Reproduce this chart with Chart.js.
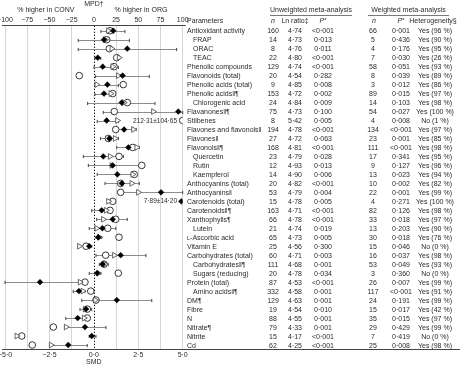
<!DOCTYPE html>
<html><head><meta charset="utf-8">
<script src="https://cdn.jsdelivr.net/npm/chart.js@4.4.1/dist/chart.umd.min.js"></script>
<style>html,body{margin:0;padding:0;background:#fff}#wrap{width:461px;height:366px;position:relative}</style>
</head><body><div id="wrap"><canvas id="c" width="461" height="366"></canvas></div>
<script>
// ---------- data ----------
const parameters = ['Antioxidant activity','FRAP','ORAC','TEAC','Phenolic compounds','Flavonoids (total)','Phenolic acids (total)','Phenolic acids‖¶','Chlorogenic acid','Flavanones‖¶','Stilbenes','Flavones and flavonols‖','Flavones‖','Flavonols‖¶','Quercetin','Rutin','Kaempferol','Anthocyanins (total)','Anthocyanins‖','Carotenoids (total)','Carotenoids‖¶','Xanthophylls¶','Lutein','L-Ascorbic acid','Vitamin E','Carbohydrates (total)','Carbohydrates‖¶','Sugars (reducing)','Protein (total)','Amino acids‖¶','DM¶','Fibre','N','Nitrate¶','Nitrite','Cd'];
const indented = [0,1,1,1,0,0,0,0,1,0,0,0,0,0,1,1,1,0,0,0,0,0,1,0,0,0,1,1,0,1,0,0,0,0,0,0];
const nUnweighted = ['160','14','8','22','129','20','9','153','24','75','8','194','27','168','23','12','14','20','53','15','163','66','21','65','25','60','111','20','87','332','129','19','88','79','15','62'];
const lnRatio = ['4·74','4·73','4·76','4·80','4·74','4·54','4·85','4·72','4·84','4·73','5·42','4·78','4·72','4·81','4·79','4·93','4·90','4·82','4·79','4·78','4·71','4·78','4·74','4·73','4·56','4·71','4·68','4·78','4·53','4·58','4·63','4·54','4·55','4·33','4·17','4·25'];
const pUnweighted = ['<0·001','0·013','0·011','<0·001','<0·001','0·282','0·008','0·002','0·009','0·100','0·005','<0·001','0·063','<0·001','0·028','0·013','0·006','<0·001','0·004','0·005','<0·001','<0·001','0·019','0·005','0·300','0·003','0·001','0·034','<0·001','0·001','0·001','0·010','0·001','0·001','<0·001','<0·001'];
const nWeighted = ['66','5','4','7','58','8','3','89','14','54','4','134','23','111','17','9','13','10','22','4','82','33','13','30','15','16','53','3','26','117','24','15','35','29','7','25'];
const pWeighted = ['0·001','0·436','0·176','0·030','0·051','0·039','0·012','0·015','0·103','0·027','0·008','<0·001','0·001','<0·001','0·341','0·127','0·023','0·002','0·001','0·271','0·126','0·018','0·203','0·018','0·046','0·037','0·049','0·360','0·007','<0·001','0·191','0·017','0·015','0·429','0·419','0·008'];
const heterogeneity = ['Yes (96 %)','Yes (90 %)','Yes (95 %)','Yes (26 %)','Yes (93 %)','Yes (89 %)','Yes (86 %)','Yes (97 %)','Yes (98 %)','Yes (100 %)','No (1 %)','Yes (97 %)','Yes (85 %)','Yes (98 %)','Yes (95 %)','Yes (96 %)','Yes (94 %)','Yes (82 %)','Yes (99 %)','Yes (100 %)','Yes (98 %)','Yes (97 %)','Yes (90 %)','Yes (76 %)','No (0 %)','Yes (98 %)','Yes (93 %)','No (0 %)','Yes (99 %)','Yes (91 %)','Yes (99 %)','Yes (42 %)','Yes (97 %)','Yes (99 %)','No (0 %)','Yes (98 %)'];
// MPD (% higher in ORG), unweighted (open circle) and weighted (open triangle)
const mpdUnweighted = [18.2,14.5,17.4,25.7,22.7,-16.4,33.1,21.2,37.7,23.0,212.31,24.6,16.3,43.7,28.3,53.9,45.5,30.2,30.2,21.2,18.2,24.6,15.6,28.3,-8.8,13.3,11.4,27.5,-10.0,-3.5,2.4,-7.4,-7.4,-45.6,-81.2,-69.3];
const mpdWeighted = [16.3,12.9,20.1,28.3,21.2,27.5,3.2,19.0,33.9,66.9,26.4,44.4,23.8,48.2,18.2,20.1,43.7,42.6,50.0,16.3,13.7,10.6,3.2,6.1,-16.4,23.0,12.6,5.0,-15.6,-12.5,1.6,-10.0,-11.1,-31.3,-86.8,-48.2];
// SMD (filled diamond) with 95 % CI
const smd = [1.09,0.57,1.88,0.22,0.50,1.62,0.76,0.57,1.57,4.75,0.72,1.70,0.87,1.94,0.53,1.06,1.32,1.57,3.78,7.89,0.44,1.06,0.48,0.25,-0.26,1.51,0.50,0.19,-3.03,-0.84,1.29,-0.44,-0.91,-0.50,-0.12,-1.44];
const smdLow = [0.40,-0.88,-0.88,0.06,0.01,0.10,0.06,0.06,-0.35,0.53,0.19,1.09,0.38,1.29,-0.59,-0.31,0.19,0.63,1.38,null,-0.12,0.16,-0.26,0.12,-0.37,0.12,0.31,-0.26,-5.0,-1.16,-0.68,-0.78,-1.58,-1.62,-0.26,-2.47];
const smdHigh = [1.75,2.00,4.66,0.39,1.38,3.12,1.38,1.09,3.44,5.0,1.38,2.38,1.38,2.56,1.66,2.69,2.41,2.56,5.0,null,0.95,1.88,1.23,0.44,-0.12,2.93,0.81,0.39,-0.78,-0.50,3.26,-0.12,-0.37,0.68,0.12,-0.37];
const offScaleNotes = [{row:10, text:'212·31±104·65'},{row:19, text:'7·89±14·20'}];
const mpdTicks = [-100,-75,-50,-25,0,25,50,75,100];
const smdTicks = [-5,-2.5,0,2.5,5];

// ---------- chart ----------
const FAM = '"Liberation Sans", Arial, Helvetica, sans-serif';
const TXT = '#2a2a2a';
const MPD_MAX = 100, SMD_MAX = 5;
const clampTo = (v, m) => Math.max(-m, Math.min(m, v));
const rows = parameters.map((_, i) => i);

const fmtSmd = v => (v < 0 ? '−' : '') + Math.abs(v).toFixed(1).replace('.', '·');
const fmtMpd = v => (v < 0 ? '−' : '') + Math.abs(v);

function fText(ctx, txt, x, y, align, size, style) {
  ctx.font = (style || '') + ' ' + (size || 7) + 'px ' + FAM;
  ctx.textAlign = align || 'left';
  ctx.fillText(txt, x, y);
}
function pStar(ctx, x, y) {
  ctx.font = 'italic 7px ' + FAM;
  const w1 = ctx.measureText('P').width;
  ctx.font = '6px ' + FAM;
  const w2 = ctx.measureText('*').width;
  const s = x - (w1 + w2) / 2;
  ctx.textAlign = 'left';
  ctx.font = 'italic 7px ' + FAM; ctx.fillText('P', s, y);
  ctx.font = '6px ' + FAM; ctx.fillText('*', s + w1, y - 1);
}

const forestPlugin = {
  id: 'forest',
  beforeDatasetsDraw(chart) {
    const { ctx, chartArea: a } = chart;
    const x = chart.scales.x, y = chart.scales.y;
    ctx.save();
    // zero line (dotted)
    const x0 = Math.round(x.getPixelForValue(0)) + 0.5;
    ctx.strokeStyle = '#111'; ctx.lineWidth = 1; ctx.setLineDash([1.3, 1.7]);
    ctx.beginPath(); ctx.moveTo(x0, a.top); ctx.lineTo(x0, a.bottom); ctx.stroke();
    ctx.setLineDash([]);
    // confidence intervals
    rows.forEach(i => {
      if (smdLow[i] == null) return;
      const py = Math.round(y.getPixelForValue(i)) + 0.5;
      const x1 = x.getPixelForValue(smdLow[i]), x2 = x.getPixelForValue(smdHigh[i]);
      ctx.strokeStyle = '#8c8c8c'; ctx.lineWidth = 1;
      ctx.beginPath(); ctx.moveTo(x1, py); ctx.lineTo(x2, py); ctx.stroke();
      ctx.strokeStyle = '#444';
      ctx.beginPath();
      ctx.moveTo(x1, py - 1.6); ctx.lineTo(x1, py + 1.6);
      ctx.moveTo(x2, py - 1.6); ctx.lineTo(x2, py + 1.6);
      ctx.stroke();
    });
    ctx.restore();
  },
  afterDraw(chart) {
    const { ctx, chartArea: a } = chart;
    const y = chart.scales.y, xt = chart.scales.xTop;
    ctx.save();
    ctx.fillStyle = TXT; ctx.textBaseline = 'middle';
    // axis lines
    ctx.strokeStyle = '#444'; ctx.lineWidth = 1;
    ctx.beginPath(); ctx.moveTo(2, Math.round(a.top) - 0.5); ctx.lineTo(a.right + 3, Math.round(a.top) - 0.5); ctx.stroke();
    ctx.beginPath(); ctx.moveTo(2, Math.round(a.bottom) + 0.5); ctx.lineTo(460, Math.round(a.bottom) + 0.5); ctx.stroke();
    // titles above the plot
    fText(ctx, 'MPD†', xt.getPixelForValue(0), 4.5, 'center', 7);
    fText(ctx, '% higher in CONV', xt.getPixelForValue(-54), 10.5, 'center', 7);
    fText(ctx, '% higher in ORG', xt.getPixelForValue(53), 10.5, 'center', 7);
    // off-scale notes
    offScaleNotes.forEach(n => fText(ctx, n.text, 177, y.getPixelForValue(n.row) + 0.3, 'right', 6.5));
    // table header
    fText(ctx, 'Unweighted meta-analysis', 311, 10.5, 'center', 7);
    fText(ctx, 'Weighted meta-analysis', 408.5, 10.5, 'center', 7);
    ctx.strokeStyle = '#555'; ctx.lineWidth = 0.8;
    ctx.beginPath(); ctx.moveTo(270, 15.5); ctx.lineTo(352, 15.5); ctx.moveTo(368, 15.5); ctx.lineTo(449, 15.5); ctx.stroke();
    const hy = 21.5;
    fText(ctx, 'Parameters', 187, hy, 'left', 7);
    fText(ctx, 'n', 273, hy, 'center', 7, 'italic');
    fText(ctx, 'Ln ratio‡', 295, hy, 'center', 7);
    pStar(ctx, 323, hy);
    fText(ctx, 'n', 374, hy, 'center', 7, 'italic');
    pStar(ctx, 401, hy);
    fText(ctx, 'Heterogeneity§', 433, hy, 'center', 7);
    // table rows
    rows.forEach(i => {
      const py = y.getPixelForValue(i) + 0.6;
      const px = 187 + (indented[i] ? 6 : 0);
      const name = parameters[i];
      if (name.startsWith('L-')) {
        ctx.font = '5.5px ' + FAM; ctx.textAlign = 'left';
        ctx.fillText('L', px, py + 0.4);
        const w = ctx.measureText('L').width;
        fText(ctx, name.slice(1), px + w, py, 'left', 7);
      } else {
        fText(ctx, name, px, py, 'left', 7);
      }
      fText(ctx, nUnweighted[i], 273, py, 'center', 7);
      fText(ctx, lnRatio[i], 295, py, 'center', 7);
      fText(ctx, pUnweighted[i], 323, py, 'center', 7);
      fText(ctx, nWeighted[i], 373, py, 'center', 7);
      fText(ctx, pWeighted[i], 401, py, 'center', 7);
      fText(ctx, heterogeneity[i], 435, py, 'center', 7);
    });
    ctx.restore();
  }
};

new Chart(document.getElementById('c'), {
  type: 'scatter',
  data: {
    datasets: [
      {
        label: 'SMD', xAxisID: 'x', yAxisID: 'y',
        data: rows.map(i => ({ x: clampTo(smd[i], SMD_MAX * 0.985), y: i })),
        pointStyle: 'rectRot', pointRadius: 2.9, backgroundColor: '#000', borderColor: '#000', borderWidth: 0.5
      },
      {
        label: 'MPD weighted', xAxisID: 'xTop', yAxisID: 'y',
        data: rows.map(i => ({ x: clampTo(mpdWeighted[i], MPD_MAX), y: i })),
        pointStyle: 'triangle', rotation: 90, pointRadius: 3.3, backgroundColor: '#fff', borderColor: '#555', borderWidth: 0.9
      },
      {
        label: 'MPD unweighted', xAxisID: 'xTop', yAxisID: 'y',
        data: rows.map(i => ({ x: clampTo(mpdUnweighted[i], MPD_MAX), y: i })),
        pointStyle: 'circle', pointRadius: 3.3, backgroundColor: '#fff', borderColor: '#222', borderWidth: 0.9
      }
    ]
  },
  options: {
    responsive: false, animation: false, devicePixelRatio: 1,
    layout: { padding: { left: 5, right: 278.3, top: 15.7, bottom: 0 } },
    plugins: { legend: { display: false }, tooltip: { enabled: false } },
    elements: { point: { hoverRadius: 3 } },
    scales: {
      y: { type: 'linear', reverse: true, min: -0.56, max: 35.48, display: false },
      x: {
        type: 'linear', position: 'bottom', min: -5, max: 5,
        afterBuildTicks: s => { s.ticks = smdTicks.map(v => ({ value: v })); },
        grid: { display: false, drawTicks: false }, border: { display: false },
        ticks: { font: { size: 7, family: FAM }, color: TXT, padding: 1.5, maxRotation: 0, autoSkip: false, callback: v => fmtSmd(v) },
        title: { display: true, text: 'SMD', font: { size: 7, family: FAM }, color: TXT, padding: { top: 0, bottom: 0 } },
        afterFit: s => { s.height = 16.7; s.paddingLeft = 0; s.paddingRight = 0; }
      },
      xTop: {
        type: 'linear', position: 'top', min: -100, max: 100,
        afterBuildTicks: s => { s.ticks = mpdTicks.map(v => ({ value: v })); },
        grid: { color: c => (c.tick && c.tick.value === 0) ? 'rgba(0,0,0,0)' : '#d6d6d6', lineWidth: 1, drawTicks: false },
        border: { display: false },
        ticks: { font: { size: 7, family: FAM }, color: TXT, padding: 1.5, maxRotation: 0, autoSkip: false, callback: v => fmtMpd(v) },
        afterFit: s => { s.height = 10; s.paddingLeft = 0; s.paddingRight = 0; }
      }
    }
  },
  plugins: [forestPlugin]
});
</script>
</body></html>
